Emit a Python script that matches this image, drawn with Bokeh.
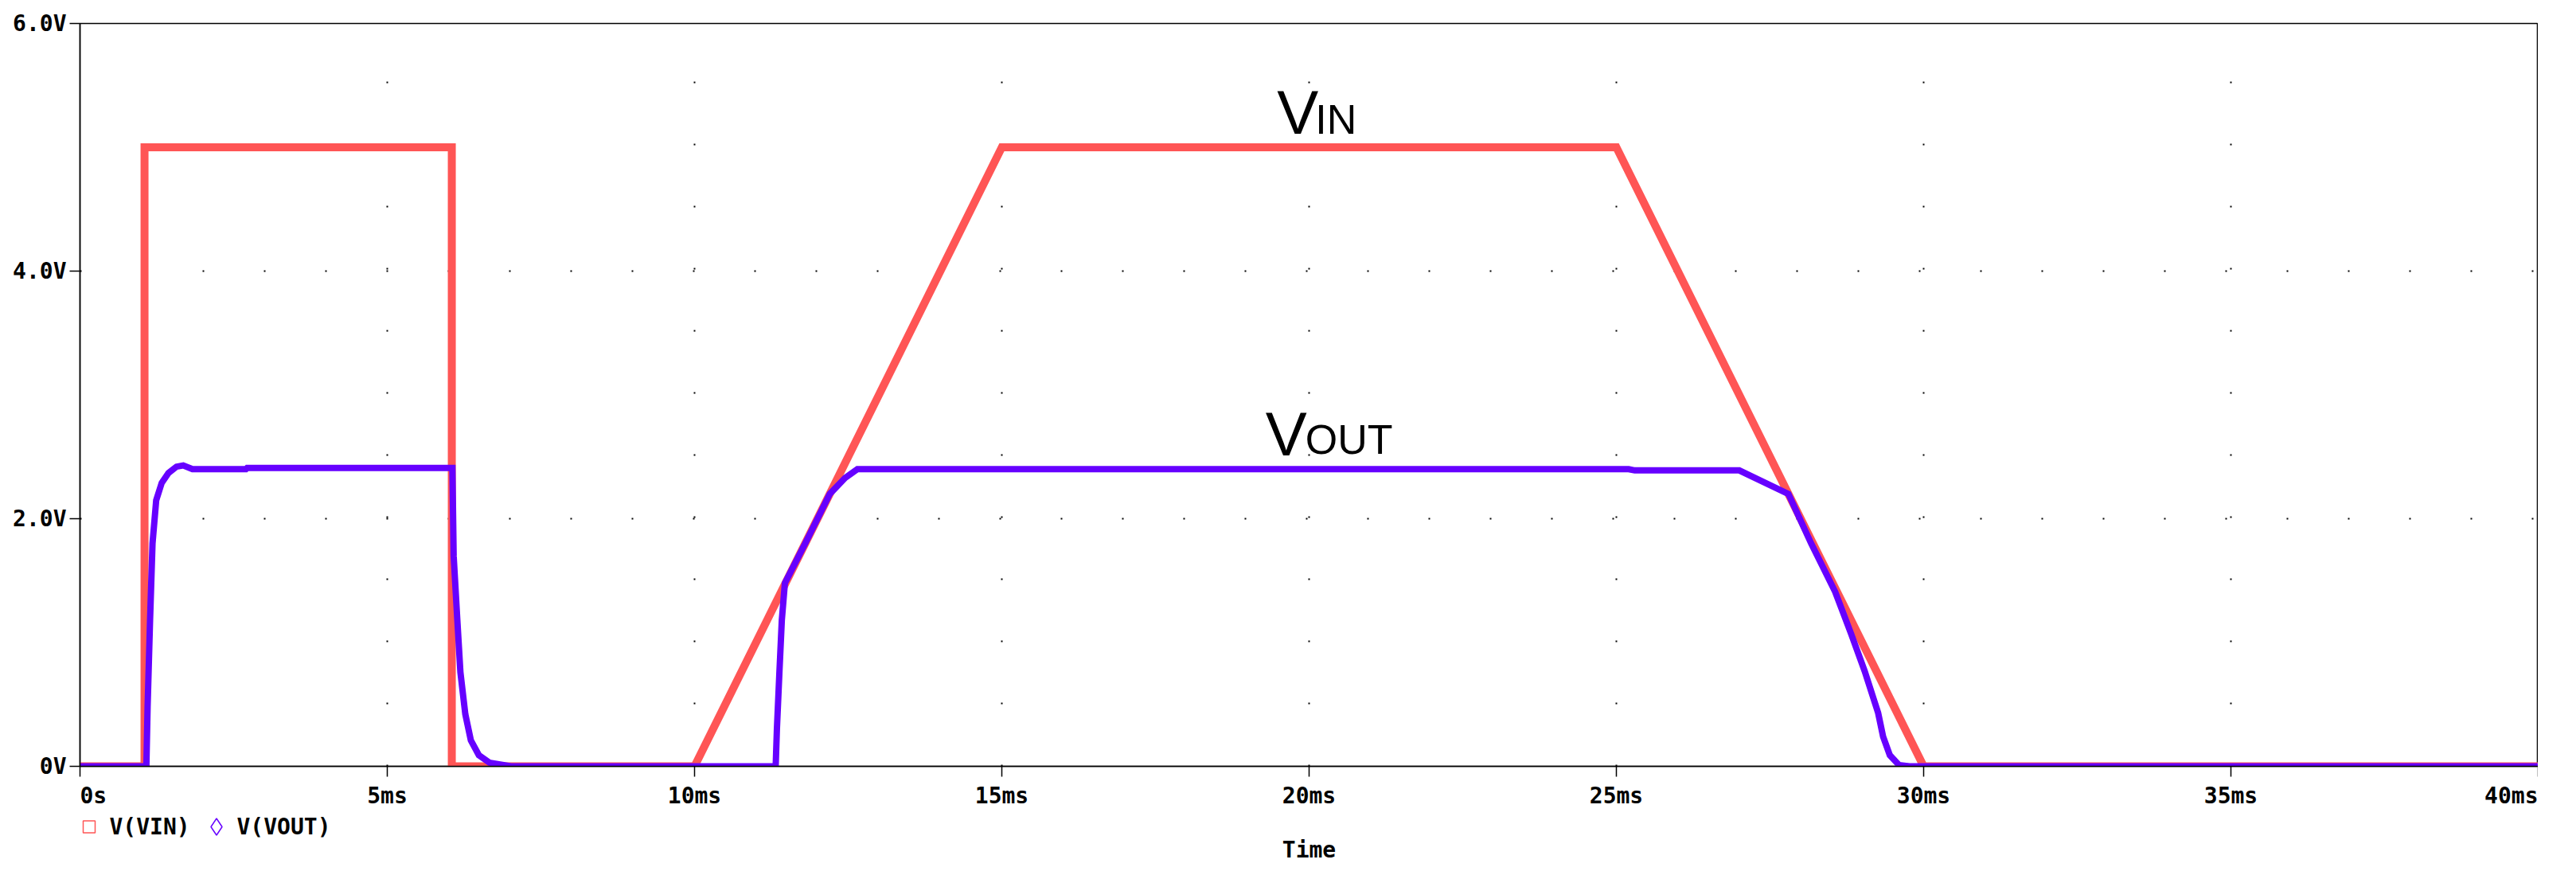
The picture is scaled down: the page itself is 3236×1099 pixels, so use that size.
from bokeh.plotting import figure
from bokeh.layouts import column
from bokeh.models import Range1d, Label, FixedTicker
from bokeh.core.properties import value
from bokeh.embed import file_html
from bokeh.resources import INLINE

# ---- data ----
t_vin = [0, 1.05, 1.05, 6.05, 6.05, 10, 15, 25, 30, 40]
v_vin = [0, 0, 5, 5, 0, 0, 5, 5, 0, 0]

t_vout = [0, 1.08, 1.10, 1.14, 1.18, 1.24, 1.33, 1.44, 1.57, 1.68, 1.83, 2.70, 2.72,
          6.06, 6.08, 6.14, 6.19, 6.27, 6.36, 6.49, 6.66, 7.01,
          11.32, 11.34, 11.38, 11.42, 11.47, 11.80, 12.20, 12.45, 12.65,
          25.20, 25.30, 27.00, 27.80, 28.17, 28.56, 28.82, 29.04, 29.26, 29.34,
          29.45, 29.60, 29.77, 40]
v_vout = [0, 0, 0.48, 1.18, 1.80, 2.15, 2.29, 2.37, 2.42, 2.43, 2.40, 2.40, 2.41,
          2.41, 1.70, 1.18, 0.76, 0.42, 0.21, 0.09, 0.03, 0.0,
          0.0, 0.30, 0.75, 1.18, 1.48, 1.80, 2.20, 2.33, 2.40,
          2.40, 2.39, 2.39, 2.20, 1.80, 1.41, 1.07, 0.77, 0.43, 0.24,
          0.09, 0.01, 0.0, 0.0]

x_ticks = [0, 5, 10, 15, 20, 25, 30, 35, 40]
x_tick_labels = ["0s", "5ms", "10ms", "15ms", "20ms", "25ms", "30ms", "35ms", "40ms"]
y_ticks = [0, 2, 4, 6]
y_tick_labels = ["0V", "2.0V", "4.0V", "6.0V"]
x_title = "Time"

series_names = ["V(VIN)", "V(VOUT)"]
series_markers = ["square", "diamond"]
RED = "#FF5555"
PURPLE = "#6600FF"
series_colors = [RED, PURPLE]
MONO = "DejaVu Sans Mono"
SANS = "Liberation Sans"

LEFT, TOP, FRAME_W, FRAME_H, AXIS_H, TOTAL_H = 100, 29, 3088, 933, 20, 1083

# ---------------- main plot ----------------
p = figure(width=LEFT + FRAME_W, height=TOP + FRAME_H + AXIS_H,
           x_range=Range1d(0, 40), y_range=Range1d(0, 6),
           output_backend="svg", toolbar_location=None,
           min_border_left=LEFT, min_border_right=0, min_border_top=TOP,
           min_border_bottom=AXIS_H)
p.background_fill_color = "white"
p.border_fill_color = "white"
p.outline_line_color = "black"
p.outline_line_width = 1.5

p.xaxis.ticker = FixedTicker(ticks=x_ticks)
p.yaxis.ticker = FixedTicker(ticks=y_ticks)
# x tick labels are drawn in the strip below (same x scale)
p.xaxis.major_label_overrides = {t: "" for t in x_ticks}
p.xaxis.major_label_text_font_size = "1px"
p.xaxis.major_label_standoff = 0
p.yaxis.major_label_overrides = {t: s for t, s in zip(y_ticks, y_tick_labels)}
for ax in (p.xaxis[0], p.yaxis[0]):
    ax.major_label_text_font = MONO
    ax.major_label_text_font_style = "bold"
    ax.major_label_text_color = "black"
    ax.axis_line_color = "black"
    ax.axis_line_width = 1.5
    ax.major_tick_line_color = "black"
    ax.major_tick_line_width = 1.5
    ax.major_tick_in = 0
    ax.major_tick_out = 13
    ax.minor_tick_line_color = None
p.yaxis.major_label_text_font_size = "28px"
p.yaxis.major_label_standoff = 4

# dotted grid
p.xgrid.ticker = FixedTicker(ticks=x_ticks[1:-1])
p.ygrid.ticker = FixedTicker(ticks=y_ticks[1:-1])
p.xgrid.grid_line_color = "black"
p.xgrid.grid_line_width = 2
p.xgrid.grid_line_dash = "2 76"
p.ygrid.grid_line_color = "black"
p.ygrid.grid_line_width = 2
p.ygrid.grid_line_dash = "2 75"

# traces
p.line(t_vin, v_vin, line_color=RED, line_width=10, line_join="miter")
p.line(t_vout, v_vout, line_color=PURPLE, line_width=8, line_join="miter")

# annotations
p.add_layout(Label(x=19.48, y=5.286, text="V", text_font=SANS, text_font_size="78px",
                   text_color="black", text_baseline="alphabetic"))
p.add_layout(Label(x=20.10, y=5.228, text="IN", text_font=SANS, text_font_size="52px",
                   text_color="black", text_baseline="alphabetic"))
p.add_layout(Label(x=19.29, y=2.688, text="V", text_font=SANS, text_font_size="78px",
                   text_color="black", text_baseline="alphabetic"))
p.add_layout(Label(x=19.94, y=2.637, text="OUT", text_font=SANS, text_font_size="52px",
                   text_color="black", text_baseline="alphabetic"))

# ---------------- tick labels + legend + axis title strip ----------------
STRIP_H = TOTAL_H - (TOP + FRAME_H + AXIS_H)
TICK_ROW = STRIP_H - 17
p2 = figure(width=LEFT + FRAME_W, height=STRIP_H,
            x_range=p.x_range, y_range=Range1d(0, STRIP_H),
            output_backend="svg", toolbar_location=None,
            x_axis_location=None, y_axis_location=None,
            min_border_left=LEFT, min_border_right=0,
            min_border_top=0, min_border_bottom=0)
p2.extra_x_ranges = {"px": Range1d(0, FRAME_W)}
p2.outline_line_color = None
p2.xgrid.visible = False
p2.ygrid.visible = False
p2.background_fill_color = "white"
p2.border_fill_color = "white"

txt = dict(text_font=value(MONO), text_font_size="28px", text_font_style="bold",
           text_color="black", text_baseline="middle")

# x tick labels: first one starts at its tick (kept inside the strip),
# last one right-aligned on its tick, as in the reference
p2.text(x=x_ticks[:1], y=[TICK_ROW], text=x_tick_labels[:1],
        text_align="left", **txt)
p2.text(x=x_ticks[1:-1], y=[TICK_ROW] * (len(x_ticks) - 2),
        text=x_tick_labels[1:-1], text_align="center", **txt)
p2.text(x=x_ticks[-1:], y=[TICK_ROW], text=x_tick_labels[-1:],
        text_align="right", **txt)

# legend
marker_x = [11.5, 171.5]
label_x = [37, 197]
for mx, lx, name, mk, col in zip(marker_x, label_x, series_names,
                                 series_markers, series_colors):
    p2.scatter(x=[mx], y=[STRIP_H - 56], marker=mk, size=15 if mk == "square" else 21,
               fill_color=None, line_color=col, line_width=1.5, x_range_name="px")
    p2.text(x=[lx], y=[STRIP_H - 56], text=[name], text_align="left",
            x_range_name="px", **txt)

# axis title
p2.text(x=[FRAME_W / 2], y=[STRIP_H - 85], text=[x_title], text_align="center",
        x_range_name="px", **txt)

layout = column(p, p2, spacing=0)
open("out.html", "w").write(file_html(layout, INLINE))
